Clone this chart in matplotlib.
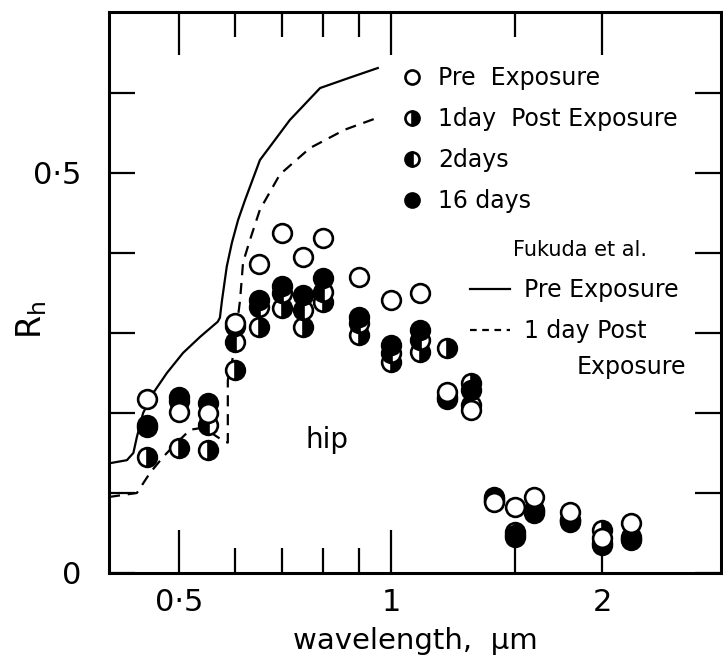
import matplotlib
matplotlib.use('Agg')
import matplotlib.pyplot as plt
from matplotlib.ticker import FixedLocator, FixedFormatter, NullFormatter
from matplotlib.lines import Line2D

# measured points (hip), wavelength in um
wavelength = [0.45, 0.5, 0.55, 0.6, 0.65, 0.7, 0.75, 0.8, 0.9, 1.0, 1.1,
              1.2, 1.3, 1.4, 1.5, 1.6, 1.8, 2.0, 2.2]
pre_exposure = [0.218, 0.201, 0.200, 0.313, 0.386, 0.425, 0.395, 0.419, 0.370, 0.341, 0.350,
                0.226, 0.204, 0.089, 0.083, 0.095, 0.076, 0.044, 0.063]
day1 = [0.145, 0.156, 0.154, 0.254, 0.308, 0.331, 0.308, 0.339, 0.298, 0.264, 0.276,
        0.281, 0.238, 0.090, 0.051, 0.079, 0.064, 0.054, 0.045]
day2 = [0.185, 0.215, 0.185, 0.289, 0.333, 0.350, 0.329, 0.351, 0.313, 0.275, 0.291,
        0.220, 0.210, 0.095, 0.047, 0.077, 0.066, 0.038, 0.042]
day16 = [0.183, 0.220, 0.213, 0.309, 0.341, 0.358, 0.348, 0.369, 0.320, 0.285, 0.304,
         0.218, 0.229, 0.092, 0.045, 0.075, 0.066, 0.035, 0.041]

# Fukuda et al. curves
fukuda_pre_wl = [0.397, 0.421, 0.430, 0.435, 0.444, 0.459, 0.480, 0.506, 0.535, 0.567,
                 0.571, 0.575, 0.584, 0.594, 0.606, 0.620, 0.651, 0.718, 0.793, 0.874, 0.958]
fukuda_pre = [0.137, 0.141, 0.150, 0.170, 0.200, 0.225, 0.250, 0.275, 0.295, 0.314,
              0.319, 0.341, 0.383, 0.413, 0.441, 0.466, 0.516, 0.566, 0.606, 0.619, 0.631]
fukuda_post_wl = [0.397, 0.435, 0.454, 0.474, 0.496, 0.518, 0.535, 0.553, 0.580, 0.586,
                  0.586, 0.596, 0.610, 0.616, 0.630, 0.651, 0.695, 0.767, 0.860, 0.958]
fukuda_post = [0.095, 0.100, 0.125, 0.145, 0.163, 0.179, 0.181, 0.176, 0.164, 0.163,
               0.241, 0.270, 0.341, 0.388, 0.416, 0.454, 0.498, 0.531, 0.554, 0.569]

xticks = [0.5, 1, 2]
xtick_labels = ['0\u00b75', '1', '2']
xminor = [0.6, 0.7, 0.8, 0.9, 1.5]
yticks = [0, 0.1, 0.2, 0.3, 0.4, 0.5, 0.6]
ytick_labels = ['0', '', '', '', '', '0\u00b75', '']

fig = plt.figure(figsize=(7.23, 6.66), dpi=100)
ax = fig.add_axes([109 / 723, 93 / 666, 612 / 723, 561 / 666])
ax.set_xscale('log')
ax.set_xlim(0.397, 2.95)
ax.set_ylim(0, 0.701)

# curves
ax.plot(fukuda_pre_wl, fukuda_pre, color='black', lw=1.6, zorder=2)
ax.plot(fukuda_post_wl, fukuda_post, color='black', lw=1.6, dashes=(5, 3.5), zorder=2)

# points
mk = dict(marker='o', ls='none', ms=13.5, mec='black', mew=1.9, zorder=3)
h1, = ax.plot(wavelength, day1, fillstyle='right', mfc='black', markerfacecoloralt='white', **mk)
h2, = ax.plot(wavelength, day2, fillstyle='left', mfc='black', markerfacecoloralt='white', **mk)
h16, = ax.plot(wavelength, day16, mfc='black', **mk)
hpre, = ax.plot(wavelength, pre_exposure, mfc='white', **mk)

# axes styling
for s in ax.spines.values():
    s.set_linewidth(2.2)
ax.xaxis.set_major_locator(FixedLocator(xticks))
ax.xaxis.set_major_formatter(FixedFormatter(xtick_labels))
ax.xaxis.set_minor_locator(FixedLocator(xminor))
ax.xaxis.set_minor_formatter(NullFormatter())
ax.yaxis.set_major_locator(FixedLocator(yticks))
ax.yaxis.set_major_formatter(FixedFormatter(ytick_labels))
ax.tick_params(axis='x', which='major', direction='in', length=31, width=1.6,
               top=True, labelsize=22, pad=11)
ax.tick_params(axis='x', which='minor', direction='in', length=18, width=1.6, top=True)
ax.tick_params(axis='y', direction='in', length=19, width=1.6, right=True,
               labelsize=22, pad=20)

ax.set_xlabel('wavelength,  \u00b5m', fontsize=21, labelpad=7)
fig.text(0.044, 0.52, r'R$_\mathregular{h}$', fontsize=24, rotation=90,
         ha='center', va='center')
ax.text(0.357, 0.237, 'hip', fontsize=20, ha='center', va='center', transform=ax.transAxes)

# legends
leg1 = ax.legend([hpre, h1, h2, h16],
                 ['Pre  Exposure', '1day  Post Exposure', '2days', '16 days'],
                 loc='upper left', bbox_to_anchor=(0.4755, 0.904), frameon=False,
                 fontsize=17, handlelength=1.0, handletextpad=0.6, labelspacing=0.72,
                 borderpad=0, borderaxespad=0, markerscale=0.75, numpoints=1)
ax.add_artist(leg1)

ax.text(0.879, 0.576, 'Fukuda et al.', fontsize=15, ha='right', va='center',
        transform=ax.transAxes)
lines = [Line2D([], [], color='black', lw=1.6),
         Line2D([], [], color='black', lw=1.6, dashes=(3, 2.5))]
leg2 = ax.legend(lines, ['Pre Exposure', '1 day Post'],
                 loc='upper left', bbox_to_anchor=(0.59, 0.526),
                 frameon=False, fontsize=17, handlelength=1.7, handletextpad=0.6,
                 labelspacing=0.72, borderpad=0, borderaxespad=0)
ax.text(0.764, 0.367, 'Exposure', fontsize=17, ha='left', va='center', transform=ax.transAxes)

fig.savefig('out.png', dpi=100)
